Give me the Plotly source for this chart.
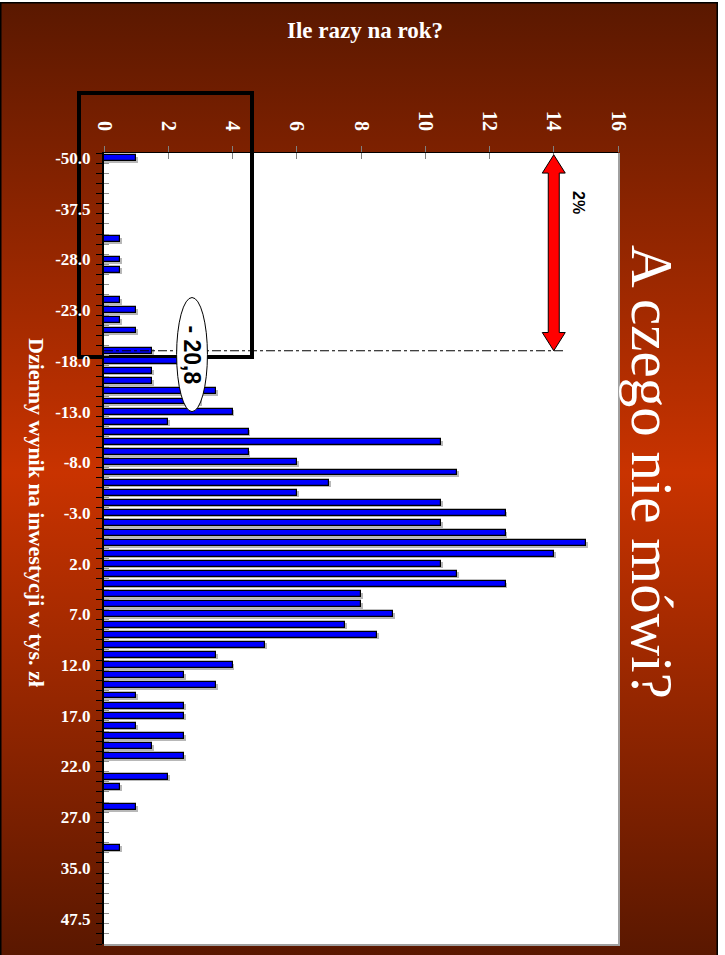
import base64
import plotly.graph_objects as go

# ---------------- data ----------------
# frequency (times per year) of each daily-result bin, bins listed top to bottom
bin_index = list(range(78))
counts = [
    1, 0, 0, 0, 0, 0, 0, 0, 0.5, 0,
    0.5, 0.5, 0, 0, 0.5, 1, 0.5, 1, 0, 1.5,
    3, 1.5, 1.5, 3.5, 3, 4, 2, 4.5, 10.5, 4.5,
    6, 11, 7, 6, 10.5, 12.5, 10.5, 12.5, 15, 14,
    10.5, 11, 12.5, 8, 8, 9, 7.5, 8.5, 5, 3.5,
    4, 2.5, 3.5, 1, 2.5, 2.5, 1, 2.5, 1.5, 2.5,
    0, 2, 0.5, 0, 1, 0, 0, 0, 0.5, 0,
    0, 0, 0, 0, 0, 0, 0, 0,
]
label_positions = list(range(0, 78, 5))
label_texts = ["-50.0", "-37.5", "-28.0", "-23.0", "-18.0", "-13.0", "-8.0", "-3.0",
               "2.0", "7.0", "12.0", "17.0", "22.0", "27.0", "35.0", "47.5"]
x_ticks = list(range(0, 17, 2))

threshold_bin = 19          # bin of the -20,8 threshold (2% tail)
threshold_label = "- 20,8"
arrow_x = 14
tail_label = "2%"

# ---------------- geometry ----------------
W, H = 725, 955
L, R, T, B = 104, 107, 153, 11
PW, PH = W - L - R, H - T - B
NB = len(bin_index)
YR = [NB - 0.5, -0.5]
XR = [0, 16]


def px(xp):
    return (xp - L) / PW


def py(yp):
    return 1 - (yp - T) / PH


SERIF = "Liberation Serif"
SANS = "Liberation Sans"

# background slide gradient (with white plot area)
svg = (
    '<svg xmlns="http://www.w3.org/2000/svg" width="725" height="955" viewBox="0 0 725 955">'
    '<defs><linearGradient id="g" x1="0" y1="0" x2="0" y2="1">'
    '<stop offset="0" stop-color="#5a1800"/>'
    '<stop offset="0.49" stop-color="#c93300"/>'
    '<stop offset="1" stop-color="#581700"/>'
    '</linearGradient></defs>'
    '<rect width="725" height="955" fill="#ffffff"/>'
    '<rect x="0.75" y="2.75" width="716.5" height="960" fill="url(#g)" stroke="#000000" stroke-width="1.5"/>'
    f'<rect x="{L}" y="{T}" width="{PW}" height="{PH}" fill="#ffffff"/>'
    '</svg>'
)
bg_uri = "data:image/svg+xml;base64," + base64.b64encode(svg.encode()).decode()

fig = go.Figure()

# shadow bars (main subplot, underneath)
sh_y = [b + 0.15 for b, c in zip(bin_index, counts) if c > 0]
sh_x = [c + 0.06 for c in counts if c > 0]
fig.add_trace(go.Bar(
    x=sh_x, y=sh_y, orientation="h", width=0.58,
    marker=dict(color="#b8b8b8", line=dict(width=0)),
    hoverinfo="skip", showlegend=False, xaxis="x", yaxis="y",
))
# main bars (overlay subplot, on top)
fig.add_trace(go.Bar(
    x=counts, y=bin_index, orientation="h", width=0.58,
    marker=dict(color="#0000ff", line=dict(color="#000000", width=1.2)),
    showlegend=False, xaxis="x2", yaxis="y2",
))

fig.update_layout(
    width=W, height=H, autosize=False,
    margin=dict(l=L, r=R, t=T, b=B, pad=0),
    paper_bgcolor="#ffffff", plot_bgcolor="rgba(0,0,0,0)",
    showlegend=False, bargap=0,
    xaxis=dict(
        range=XR, side="top", tickmode="array", tickvals=x_ticks,
        tickangle=90, tickfont=dict(family=SERIF, size=20, color="#ffffff", weight="bold"),
        ticks="outside", ticklen=6, tickcolor="#808080", tickwidth=1,
        ticklabelstandoff=8,
        showline=True, linecolor="#000000", linewidth=1,
        showgrid=False, zeroline=False, anchor="y",
    ),
    xaxis2=dict(
        range=XR, side="top", overlaying="x", tickmode="array", tickvals=x_ticks,
        ticks="inside", ticklen=6, tickcolor="#808080", tickwidth=1,
        showticklabels=False, showline=False, showgrid=False, zeroline=False,
        anchor="y",
    ),
    yaxis=dict(
        range=YR, tickmode="array", tickvals=label_positions, ticktext=label_texts,
        tickfont=dict(family=SERIF, size=17, color="#ffffff", weight="bold"),
        ticks="outside", ticklen=8, tickcolor="rgba(0,0,0,0)",
        minor=dict(tickmode="linear", tick0=-0.5, dtick=1, ticks="outside",
                   ticklen=6, tickcolor="#000000", tickwidth=1, showgrid=False),
        showline=True, linecolor="#000000", linewidth=2,
        showgrid=False, zeroline=False, anchor="x",
    ),
    yaxis2=dict(
        range=YR, overlaying="y", side="left", tickmode="array",
        tickvals=[b - 0.5 for b in bin_index] + [NB - 0.5],
        ticks="inside", ticklen=5, tickcolor="#909090", tickwidth=1,
        showticklabels=False, showline=False, showgrid=False, zeroline=False,
        anchor="x",
    ),
    images=[dict(
        source=bg_uri, xref="paper", yref="paper",
        x=px(0), y=py(0), sizex=W / PW, sizey=H / PH,
        xanchor="left", yanchor="top", sizing="stretch", layer="below",
    )],
)

# arrow path: x in pixels around arrow_x, y in data units
ytop, ybot, hl = -0.32, threshold_bin, 1.8
hw, sw = 11.5, 5.5
arrow_path = (
    f"M 0 {ytop} L {hw} {ytop + hl} L {sw} {ytop + hl} L {sw} {ybot - hl} "
    f"L {hw} {ybot - hl} L 0 {ybot} L {-hw} {ybot - hl} L {-sw} {ybot - hl} "
    f"L {-sw} {ytop + hl} L {-hw} {ytop + hl} Z"
)

shapes = [
    # black highlight frame (under labels and bars)
    dict(type="rect", xref="paper", yref="paper",
         x0=px(79), x1=px(252), y0=py(357), y1=py(93),
         line=dict(color="#000000", width=4), fillcolor="rgba(0,0,0,0)", layer="below"),
    # plot-area shadow (right & bottom)
    dict(type="line", xref="paper", yref="paper", x0=1 + 1 / PW, x1=1 + 1 / PW,
         y0=-1 / PH, y1=1, line=dict(color="#a0a0a0", width=2), layer="above"),
    dict(type="line", xref="paper", yref="paper", x0=0, x1=1 + 2 / PW,
         y0=-1 / PH, y1=-1 / PH, line=dict(color="#a0a0a0", width=2), layer="above"),
    # threshold dash-dot line
    dict(type="line", xref="x", yref="y", x0=0, x1=arrow_x + 0.3,
         y0=threshold_bin, y1=threshold_bin,
         line=dict(color="#000000", width=1, dash="dashdot"), layer="above"),
    # red double arrow
    dict(type="path", xref="x", yref="y", xsizemode="pixel", xanchor=arrow_x,
         path=arrow_path, fillcolor="#ff0000", line=dict(color="#000000", width=1),
         layer="above"),
    # ellipse around threshold label
    dict(type="circle", xref="x", yref="y", x0=2.26, x1=3.22, y0=13.75, y1=25.0,
         fillcolor="#ffffff", line=dict(color="#000000", width=1), layer="above"),
]
fig.update_layout(shapes=shapes)

annotations = [
    dict(text="<b>Ile razy na rok?</b>", xref="paper", yref="paper",
         x=px(365), y=py(30), showarrow=False,
         font=dict(family=SERIF, size=23, color="#ffffff"),
         xanchor="center", yanchor="middle"),
    dict(text="<b>Dzienny wynik na inwestycji w tys. zł</b>", xref="paper", yref="paper",
         x=px(37), y=py(512), showarrow=False, textangle=90,
         font=dict(family=SERIF, size=22, color="#ffffff"),
         xanchor="center", yanchor="middle"),
    dict(text="A czego nie mówi?", xref="paper", yref="paper",
         x=px(652), y=py(472), showarrow=False, textangle=90,
         font=dict(family=SERIF, size=59, color="#ffffff"),
         xanchor="center", yanchor="middle"),
    dict(text="<b>" + threshold_label + "</b>", xref="x", yref="y",
         x=2.74, y=threshold_bin + 0.37, showarrow=False, textangle=90,
         font=dict(family=SANS, size=23, color="#000000"),
         xanchor="center", yanchor="middle"),
    dict(text="<b>" + tail_label + "</b>", xref="paper", yref="paper",
         x=px(579), y=py(202), showarrow=False, textangle=90,
         font=dict(family=SANS, size=16, color="#000000"),
         xanchor="center", yanchor="middle"),
]
fig.update_layout(annotations=annotations)

fig.write_html("out.html")
